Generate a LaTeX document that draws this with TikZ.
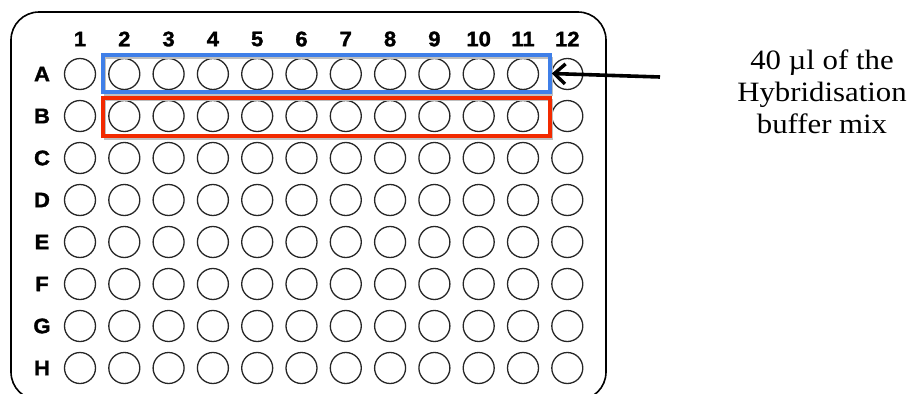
\documentclass[tikz,border=0pt]{standalone}
\usepackage{fontspec}
\setmainfont{Liberation Serif}
\newfontfamily\platefont[FakeStretch=1.05,FakeBold=1.5]{Liberation Sans Bold}
\newfontfamily\notefont[FakeStretch=1.1]{Liberation Serif}
\usetikzlibrary{fit,arrows.meta}
\definecolor{plateblue}{HTML}{3F7FE8}
\definecolor{platered}{HTML}{F22A00}
\tikzset{
  well/.style={circle, draw=black!85, line width=1.3pt, minimum size=31pt, inner sep=0pt},
  lab/.style={font=\platefont\fontsize{21}{21}\selectfont, inner sep=0pt},
  bluebox/.style={draw=plateblue, line width=3.5pt, inner sep=0pt},
  redbox/.style={draw=platered, line width=3.5pt, inner sep=0pt},
  pointer/.style={line width=3.6pt, -{Straight Barb[length=11pt,width=20pt,line width=3.4pt]}},
  note/.style={align=center, font=\notefont\fontsize{28}{32}\selectfont, inner sep=0pt},
}
\begin{document}
\begin{tikzpicture}[x=1pt,y=-1pt]
\useasboundingbox (0,0) rectangle (914,394);
\begin{scope}
\clip (0,0) rectangle (914,394);
\draw[line width=1.6pt, rounded corners=28pt] (11,12) rectangle (606,400);
\end{scope}
% column labels
\foreach \c in {1,...,12}{
  \node[lab] (col\c) at ({80+44.3*(\c-1)}, 39) {\c};
}
% rows
\foreach \r [count=\i] in {A,B,C,D,E,F,G,H}{
  \node[lab] (row\r) at (42, {74+42*(\i-1)}) {\r};
  \foreach \c in {1,...,12}{
    \node[well] (w\r\c) at ({80+44.3*(\c-1)}, {74+42*(\i-1)}) {};
  }
}
% highlight boxes
\draw[black!25, line width=2pt] (105,58) rectangle (552,95);
\draw[black!25, line width=2pt] (105,100) rectangle (552,139);
\node[bluebox, fit={(103,55) (550,92)}] (blue) {};
\node[redbox, fit={(103,98) (550,136)}] (red) {};
% arrow
\coordinate (astart) at (660,77);
\draw[pointer] (astart) -- (blue.east);
% note
\node[note] (note) at (822,92) {40 µl of the\\Hybridisation\\buffer mix};
\end{tikzpicture}
\end{document}
